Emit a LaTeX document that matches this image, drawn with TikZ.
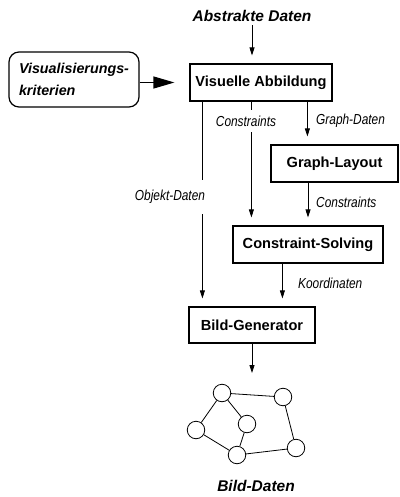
\documentclass[tikz,border=0pt]{standalone}
\usepackage{fontspec}
\setmainfont{Liberation Sans}
\newfontfamily\narrowsans[FakeStretch=0.82]{Liberation Sans}
\usetikzlibrary{positioning,calc,arrows.meta}

\begin{document}
\begin{tikzpicture}[x=1pt,y=-1pt,
    box/.style={draw,line width=1.2pt,inner sep=0pt,minimum height=37pt,font=\fontsize{14.6}{17}\selectfont\bfseries},
    title/.style={font=\fontsize{15.5}{18}\selectfont\bfseries\itshape},
    lbl/.style={font=\fontsize{14.5}{17}\selectfont\narrowsans\itshape,inner sep=1pt},
    flow/.style={-{Triangle[length=8pt,width=5pt]},line width=0.8pt,shorten >=8pt},
    gnode/.style={circle,draw,line width=0.8pt,minimum size=17.5pt,inner sep=0pt}]
    \useasboundingbox (0,0) rectangle (399,497);

    % boxes
    \node[title] (abstrakt) at (252,16) {Abstrakte Daten};
    \node[box,minimum width=142pt] (visabb) at (261,82.5) {Visuelle Abbildung};
    \node[draw,line width=1.2pt,rounded corners=10pt,minimum width=130pt,minimum height=55pt,
          align=left,font=\fontsize{14.3}{22}\selectfont\bfseries\itshape] (krit) at (74,79.5)
          {Visualisierungs-\\kriterien};
    \node[box,minimum width=127pt] (glayout) at (334.5,163.5) {Graph-Layout};
    \node[box,minimum width=150pt] (csolv) at (308,244.5) {Constraint-Solving};
    \node[box,minimum width=126pt,minimum height=36pt] (bgen) at (252,325) {Bild-Generator};
    \node[title] (bilddaten) at (256,486) {Bild-Daten};

    % connectors
    \draw[flow] (abstrakt) -- (abstrakt |- visabb.north);
    \draw[-{Triangle[length=21pt,width=12pt]},line width=1.2pt,shorten >=15pt] (krit.east |- visabb) -- (visabb.west);
    \draw[flow] ($(visabb.south west)+(13,0)$) coordinate (o1) -- (o1 |- bgen.north);
    \draw[flow] ($(visabb.south west)+(62,0)$) coordinate (c1) -- (c1 |- csolv.north);
    \draw[flow] ($(visabb.south west)+(118,0)$) coordinate (g1) -- (g1 |- glayout.north);
    \draw[flow] (csolv.north |- glayout.south) -- (csolv.north);
    \draw[flow] ($(csolv.south west)+(50,0)$) coordinate (k1) -- (k1 |- bgen.north);
    \coordinate (gtop) at (252,381);
    \draw[flow] (bgen.south) -- (gtop);

    % labels
    \node[lbl,fill=white,inner ysep=10pt] (objlbl) at (170,197) {Objekt-Daten};
    \node[lbl,fill=white,inner ysep=6pt] (conlbl) at (246,121) {Constraints};
    \node[lbl,anchor=west] (gdlbl) at (315,121) {Graph-Daten};
    \node[lbl,anchor=west] (con2lbl) at (315,202) {Constraints};
    \node[lbl,anchor=west] (koordlbl) at (297,283) {Koordinaten};

    % small graph
    \foreach \n/\x/\y in {a/222/393, b/283/397, c/247/424, d/196/430, e/237/455, f/296/448}
        \node[gnode] (\n) at (\x,\y) {};
    \foreach \u/\v in {a/b, a/d, a/c, d/e, c/e, e/f, b/f}
        \draw[line width=0.8pt] (\u) -- (\v);
\end{tikzpicture}
\end{document}
